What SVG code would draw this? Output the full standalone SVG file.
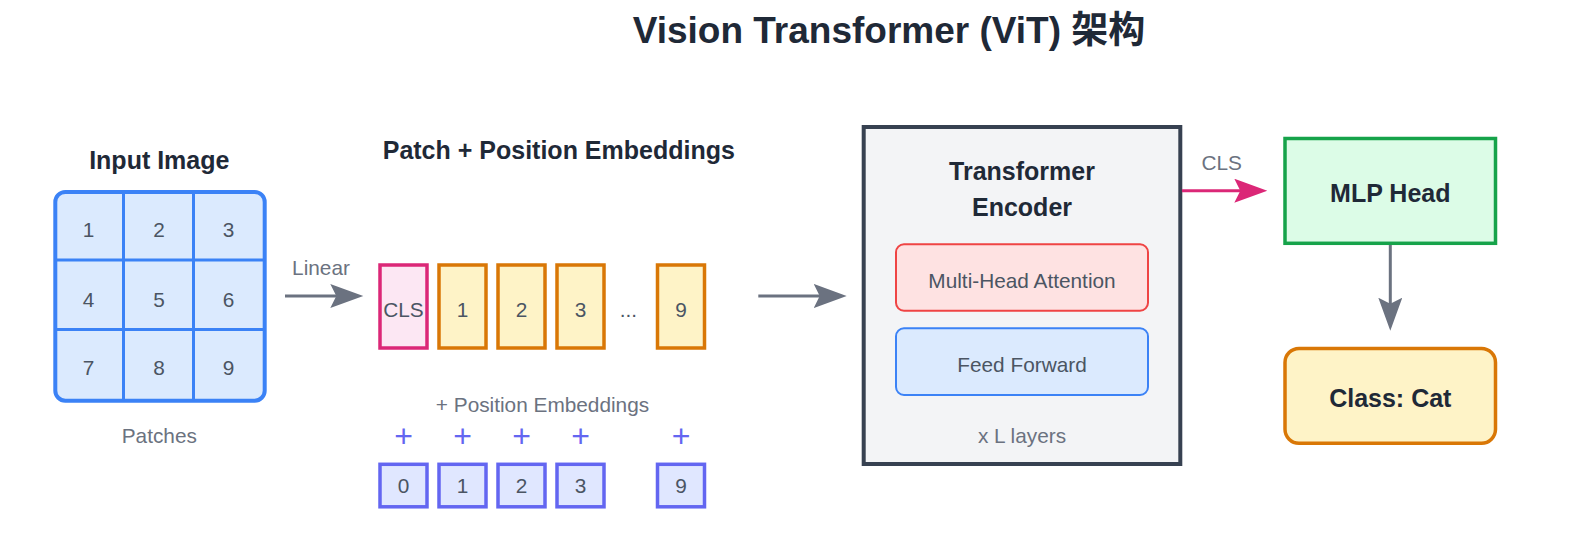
<svg xmlns="http://www.w3.org/2000/svg" width="1596" height="560" viewBox="0 0 1596 560">
<style>
text{font-family:"Liberation Sans",Arial,"Noto Sans CJK SC",sans-serif}
.t{font-size:20.8px;fill:#4b5563;text-anchor:middle}
.lbl{font-size:20.8px;fill:#6b7280;text-anchor:middle}
.b{font-size:25px;font-weight:bold;fill:#1f2937;text-anchor:middle}
.tok{fill:#fef3c7;stroke:#d97706;stroke-width:3.5}
.pos{fill:#e0e7ff;stroke:#6366f1;stroke-width:3.5}
.plus{font-size:32px;fill:#6366f1;text-anchor:middle}
.grid{stroke:#3b82f6;stroke-width:3;fill:none}
.conn{stroke:#6b7280;stroke-width:3;fill:none}
</style>
<defs>
<marker id="ag" markerUnits="userSpaceOnUse" markerWidth="34" markerHeight="24" refX="10" refY="12" orient="auto" viewBox="0 0 34 24"><path d="M0,0 L33,12 L0,24 L6,12 Z" fill="#6b7280"/></marker>
<marker id="ap" markerUnits="userSpaceOnUse" markerWidth="34" markerHeight="24" refX="10" refY="12" orient="auto" viewBox="0 0 34 24"><path d="M0,0 L33,12 L0,24 L6,12 Z" fill="#db2777"/></marker>
</defs>
<rect width="1596" height="560" fill="#ffffff"/>
<text id="title" x="889" y="43" class="b" style="font-size:37px">Vision Transformer (ViT) 架构</text>

<g id="input-image">
<text x="159.3" y="169.3" class="b">Input Image</text>
<rect x="55.3" y="192" width="209.4" height="208.7" rx="10" fill="#dbeafe" stroke="#3b82f6" stroke-width="4"/>
<line x1="123.5" y1="192" x2="123.5" y2="400.7" class="grid"/>
<line x1="193.5" y1="192" x2="193.5" y2="400.7" class="grid"/>
<line x1="55.3" y1="260" x2="264.7" y2="260" class="grid"/>
<line x1="55.3" y1="329.5" x2="264.7" y2="329.5" class="grid"/>
<text x="88.5" y="236.7" class="t">1</text>
<text x="159" y="236.7" class="t">2</text>
<text x="228.5" y="236.7" class="t">3</text>
<text x="88.5" y="306.7" class="t">4</text>
<text x="159" y="306.7" class="t">5</text>
<text x="228.5" y="306.7" class="t">6</text>
<text x="88.5" y="375" class="t">7</text>
<text x="159" y="375" class="t">8</text>
<text x="228.5" y="375" class="t">9</text>
<text x="159.3" y="443.3" class="lbl">Patches</text>
</g>

<g id="embeddings">
<text x="558.8" y="159.3" class="b">Patch + Position Embeddings</text>
<rect x="380" y="265" width="47" height="83" fill="#fce7f3" stroke="#db2777" stroke-width="3.5"/>
<text x="403.5" y="316.7" class="t">CLS</text>
<rect x="439" y="265" width="47" height="83" class="tok"/>
<text x="462.5" y="316.7" class="t">1</text>
<rect x="498" y="265" width="47" height="83" class="tok"/>
<text x="521.5" y="316.7" class="t">2</text>
<rect x="557" y="265" width="47" height="83" class="tok"/>
<text x="580.5" y="316.7" class="t">3</text>
<text x="628.3" y="316.7" class="t">...</text>
<rect x="657.5" y="265" width="47" height="83" class="tok"/>
<text x="681" y="316.7" class="t">9</text>
<text x="542.5" y="411.7" class="lbl">+ Position Embeddings</text>
<text x="403.5" y="447.3" class="plus">+</text>
<text x="462.5" y="447.3" class="plus">+</text>
<text x="521.5" y="447.3" class="plus">+</text>
<text x="580.5" y="447.3" class="plus">+</text>
<text x="681" y="447.3" class="plus">+</text>
<rect x="380" y="464.3" width="47" height="42.5" class="pos"/>
<text x="403.5" y="493.3" class="t">0</text>
<rect x="439" y="464.3" width="47" height="42.5" class="pos"/>
<text x="462.5" y="493.3" class="t">1</text>
<rect x="498" y="464.3" width="47" height="42.5" class="pos"/>
<text x="521.5" y="493.3" class="t">2</text>
<rect x="557" y="464.3" width="47" height="42.5" class="pos"/>
<text x="580.5" y="493.3" class="t">3</text>
<rect x="657.5" y="464.3" width="47" height="42.5" class="pos"/>
<text x="681" y="493.3" class="t">9</text>
</g>

<g id="encoder">
<rect x="863.7" y="127" width="316.6" height="337" fill="#f3f4f6" stroke="#374151" stroke-width="4"/>
<text x="1022" y="180" class="b">Transformer</text>
<text x="1022" y="216" class="b">Encoder</text>
<g id="mha">
<rect x="896" y="244.3" width="252" height="66.4" rx="8" fill="#fee2e2" stroke="#ef4444" stroke-width="2"/>
<text x="1022" y="288.3" class="t">Multi-Head Attention</text>
</g>
<g id="ff">
<rect x="896" y="328.3" width="252" height="66.7" rx="8" fill="#dbeafe" stroke="#3b82f6" stroke-width="2"/>
<text x="1022" y="371.7" class="t">Feed Forward</text>
</g>
<text x="1022" y="443.3" class="lbl">x L layers</text>
</g>

<g id="mlp-head">
<rect x="1285" y="138.5" width="210.5" height="104.8" fill="#dcfce7" stroke="#16a34a" stroke-width="3.5"/>
<text x="1390.3" y="201.7" class="b">MLP Head</text>
</g>

<g id="class-output">
<rect x="1285" y="348.5" width="210.5" height="94.8" rx="14" fill="#fef3c7" stroke="#d97706" stroke-width="3.5"/>
<text x="1390.3" y="407.3" class="b">Class: Cat</text>
</g>

<g id="connectors">
<line x1="285" y1="296" x2="340.3" y2="296" class="conn" marker-end="url(#ag)"/>
<text x="321" y="275" class="lbl">Linear</text>
<line x1="758.3" y1="296" x2="823.7" y2="296" class="conn" marker-end="url(#ag)"/>
<line x1="1182" y1="190.7" x2="1244.3" y2="190.7" stroke="#db2777" stroke-width="3" marker-end="url(#ap)"/>
<text x="1221.7" y="170" class="lbl">CLS</text>
<line x1="1390.3" y1="245" x2="1390.3" y2="307.7" class="conn" marker-end="url(#ag)"/>
</g>
</svg>
